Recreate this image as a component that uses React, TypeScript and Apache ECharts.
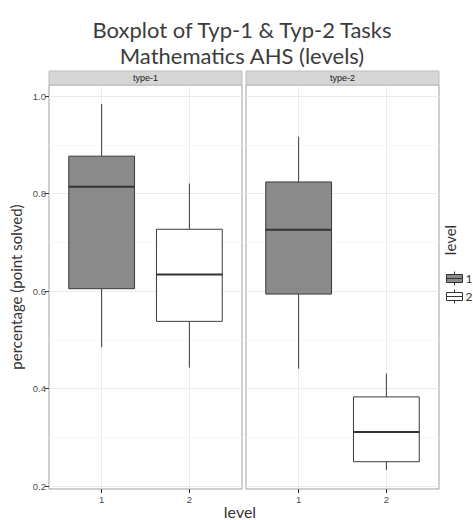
import React, { useEffect, useRef } from "react";
import * as echarts from "echarts";

// ---- data ----
const levels = ["1", "2"];
const panels = ["type-1", "type-2"];
// [min, Q1, median, Q3, max]
const type1Level1 = [0.485, 0.605, 0.814, 0.877, 0.984];
const type1Level2 = [0.443, 0.538, 0.634, 0.727, 0.821];
const type2Level1 = [0.441, 0.594, 0.726, 0.824, 0.917];
const type2Level2 = [0.233, 0.25, 0.311, 0.383, 0.431];
const yTicks = [0.2, 0.4, 0.6, 0.8, 1.0];
const yMinorTicks = [0.3, 0.5, 0.7, 0.9];
const xTicks = [1, 2];

const BOX_WIDTH = 0.75;
const fills = ["#8a8a8a", "#ffffff"];

export default function App() {
  const ref = useRef<HTMLDivElement>(null);
  useEffect(() => {
    if (!ref.current) return;
    const chart = echarts.init(ref.current, undefined, { renderer: "svg" });

    const renderItem = (params: any, api: any) => {
      const x = api.value(0);
      const lo = api.coord([x, api.value(1)]);
      const q1 = api.coord([x, api.value(2)]);
      const med = api.coord([x, api.value(3)]);
      const q3 = api.coord([x, api.value(4)]);
      const hi = api.coord([x, api.value(5)]);
      const w = api.size([BOX_WIDTH, 0])[0];
      const cx = lo[0];
      const color = api.visual("color");
      const stroke = "#3a3a3a";
      return {
        type: "group",
        children: [
          { type: "line", shape: { x1: cx, y1: hi[1], x2: cx, y2: q3[1] }, style: { stroke, lineWidth: 1 } },
          { type: "line", shape: { x1: cx, y1: q1[1], x2: cx, y2: lo[1] }, style: { stroke, lineWidth: 1 } },
          {
            type: "rect",
            shape: { x: cx - w / 2, y: q3[1], width: w, height: q1[1] - q3[1] },
            style: { fill: color, stroke, lineWidth: 1 },
          },
          {
            type: "line",
            shape: { x1: cx - w / 2, y1: med[1], x2: cx + w / 2, y2: med[1] },
            style: { stroke: "#333333", lineWidth: 2 },
          },
        ],
      };
    };

    const gridLines = {
      silent: true,
      symbol: ["none", "none"],
      z: 1,
      label: { show: false },
      emphasis: { disabled: true },
      data: [
        ...yMinorTicks.map((v) => ({ yAxis: v, lineStyle: { color: "#f6f6f6", width: 1, type: "solid" } })),
        ...yTicks.map((v) => ({ yAxis: v, lineStyle: { color: "#ebebeb", width: 1, type: "solid" } })),
        ...xTicks.map((v) => ({ xAxis: v, lineStyle: { color: "#ebebeb", width: 1, type: "solid" } })),
      ],
    };

    const tickFont = { fontFamily: "Liberation Sans", fontSize: 9.5, color: "#4d4d4d" };

    const makeX = (gi: number) => ({
      gridIndex: gi,
      type: "value",
      min: 0.4,
      max: 2.6,
      axisLine: { show: false },
      axisTick: { show: true, customValues: xTicks, length: 4, lineStyle: { color: "#333" } },
      axisLabel: {
        ...tickFont,
        customValues: xTicks,
        margin: 5,
        formatter: (v: number) => levels[Math.round(v) - 1] ?? "",
      },
      splitLine: { show: false },
    });

    const makeY = (gi: number) => ({
      gridIndex: gi,
      type: "value",
      min: 0.194,
      max: 1.023,
      axisLine: { show: false },
      axisTick: { show: gi === 0, customValues: yTicks, length: 4, lineStyle: { color: "#333" } },
      axisLabel: {
        show: gi === 0,
        ...tickFont,
        customValues: yTicks,
        margin: 3,
        formatter: (v: number) => v.toFixed(1),
      },
      splitLine: { show: false },
    });

    const boxSeries = (name: string, gi: number, values: number[], x: number, withGrid: boolean) => ({
      type: "custom",
      name,
      xAxisIndex: gi,
      yAxisIndex: gi,
      renderItem,
      encode: { x: 0, y: [1, 2, 3, 4, 5] },
      itemStyle: { color: fills[x - 1], borderColor: "#333", borderWidth: 1 },
      z: 2,
      data: [[x, ...values]],
      ...(withGrid ? { markLine: gridLines } : {}),
    });

    const gridLeft = [49, 246];
    const gridTop = 85;
    const gridW = 193;
    const gridH = 404;
    const stripH = 14;

    const strips: any[] = [];
    panels.forEach((p, i) => {
      strips.push({
        type: "rect",
        shape: { x: gridLeft[i], y: gridTop - stripH, width: gridW, height: stripH },
        style: { fill: "#d6d6d6", stroke: "#bdbdbd", lineWidth: 1 },
      });
      strips.push({
        type: "text",
        x: gridLeft[i] + gridW / 2,
        y: gridTop - stripH / 2,
        style: {
          text: p,
          fill: "#1a1a1a",
          font: "9px 'Liberation Sans'",
          textAlign: "center",
          textVerticalAlign: "middle",
        },
      });
    });

    chart.setOption({
      animation: false,
      title: {
        text: "Boxplot of Typ-1 & Typ-2 Tasks\nMathematics AHS (levels)",
        left: 237,
        textAlign: "center",
        top: 11,
        textStyle: {
          fontFamily: "Lato",
          fontSize: 22,
          fontWeight: "normal",
          color: "#3c3c3c",
          lineHeight: 26,
        },
      },
      legend: {
        data: levels,
        orient: "vertical",
        left: 446,
        top: 271,
        itemWidth: 16,
        itemHeight: 14,
        itemGap: 3,
        padding: 0,
        icon: "path://M0,3H16V11H0Z M0,7H16 M8,0V3 M8,11V14",
        itemStyle: { borderColor: "#333", borderWidth: 1 },
        textStyle: { fontFamily: "Lato", fontSize: 12, color: "#333", padding: [0, 0, 0, -2] },
        selectedMode: false,
      },
      grid: gridLeft.map((l) => ({
        left: l,
        top: gridTop,
        width: gridW,
        height: gridH,
        show: true,
        borderColor: "#9e9e9e",
        borderWidth: 1,
        backgroundColor: "#ffffff",
        containLabel: false,
      })),
      xAxis: [makeX(0), makeX(1)],
      yAxis: [makeY(0), makeY(1)],
      series: [
        boxSeries(levels[0], 0, type1Level1, 1, true),
        boxSeries(levels[1], 0, type1Level2, 2, false),
        boxSeries(levels[0], 1, type2Level1, 1, true),
        boxSeries(levels[1], 1, type2Level2, 2, false),
      ],
      graphic: [
        ...strips,
        {
          type: "text",
          x: 16,
          y: gridTop + gridH / 2,
          rotation: Math.PI / 2,
          style: {
            text: "percentage (point solved)",
            fill: "#333333",
            font: "15px Lato",
            textAlign: "center",
            textVerticalAlign: "middle",
          },
        },
        {
          type: "text",
          x: 240,
          y: 511,
          style: {
            text: "level",
            fill: "#333333",
            font: "16px Lato",
            textAlign: "center",
            textVerticalAlign: "middle",
          },
        },
        {
          type: "text",
          x: 450,
          y: 240,
          rotation: Math.PI / 2,
          style: {
            text: "level",
            fill: "#333333",
            font: "15px Lato",
            textAlign: "center",
            textVerticalAlign: "middle",
          },
        },
      ],
    });
    return () => chart.dispose();
  }, []);
  return (
    <div
      ref={ref}
      style={{ position: "fixed", left: 0, top: 0, width: 473, height: 520, background: "#ffffff" }}
    />
  );
}
